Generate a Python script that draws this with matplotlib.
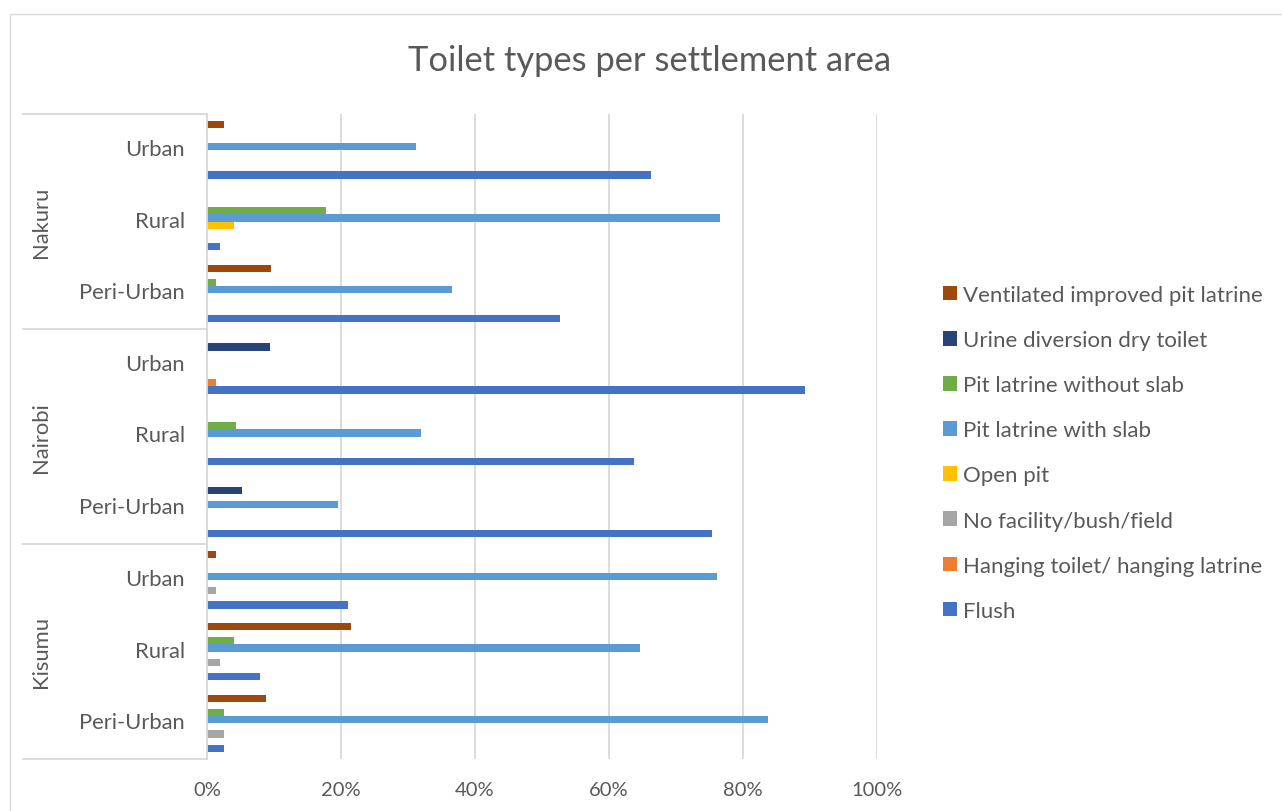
import numpy as np
import matplotlib.pyplot as plt
from matplotlib.patches import Rectangle
from matplotlib.transforms import blended_transform_factory, ScaledTranslation

plt.rcParams['font.family'] = ['Lato', 'DejaVu Sans']

# categories, bottom to top
groups = ['Kisumu', 'Nairobi', 'Nakuru']
areas = ['Peri-Urban', 'Rural', 'Urban']

series = ['Flush', 'Hanging toilet/ hanging latrine', 'No facility/bush/field',
          'Open pit', 'Pit latrine with slab', 'Pit latrine without slab',
          'Urine diversion dry toilet', 'Ventilated improved pit latrine']
colors = ['#4472C4', '#ED7D31', '#A5A5A5', '#FFC000', '#5B9BD5', '#70AD47',
          '#264478', '#9E480E']

# values in % (order: Kisumu PU, Rural, Urban, Nairobi PU, Rural, Urban, Nakuru PU, Rural, Urban)
flush = [2.5, 7.9, 21.1, 75.3, 63.8, 89.2, 52.7, 2.0, 66.2]
hanging = [0, 0, 0, 0, 0, 1.3, 0, 0, 0]
no_facility = [2.5, 2.0, 1.4, 0, 0, 0, 0, 0, 0]
open_pit = [0, 0, 0, 0, 0, 0, 0, 4.0, 0]
with_slab = [83.7, 64.7, 76.1, 19.5, 31.9, 0, 36.5, 76.5, 31.2]
without_slab = [2.5, 4.0, 0, 0, 4.3, 0, 1.4, 17.7, 0]
urine_div = [0, 0, 0, 5.2, 0, 9.4, 0, 0, 0]
vip = [8.8, 21.5, 1.4, 0, 0, 0, 9.5, 0, 2.6]

values = [flush, hanging, no_facility, open_pit, with_slab, without_slab, urine_div, vip]

W, H = 1282, 812
txt = '#595959'
grid = '#D9D9D9'

fig = plt.figure(figsize=(W / 100, H / 100), dpi=100)
ax = fig.add_axes([207 / W, 52 / H, 670 / W, 645 / H])

y = np.arange(len(groups) * len(areas))
h = 0.1
for i, (name, vals) in enumerate(zip(series, values)):
    ax.barh(y + (i - 3.5) * h, np.array(vals) / 100, height=h, color=colors[i], label=name)

ax.set_ylim(-0.5, len(y) - 0.5)
ax.set_xlim(0, 1)
ax.set_xticks(np.arange(0, 1.01, 0.2))
ax.set_xticklabels([f'{int(round(v * 100))}%' for v in np.arange(0, 1.01, 0.2)])
ax.tick_params(axis='x', length=0, pad=16, labelsize=14.5, labelcolor=txt)
ax.set_yticks(y)
ax.set_yticklabels(areas * len(groups))
ax.tick_params(axis='y', length=0, pad=16, labelsize=15.8, labelcolor=txt)
shift = ScaledTranslation(0, 3 / 100, fig.dpi_scale_trans)
for lab in ax.get_yticklabels():
    lab.set_transform(lab.get_transform() + shift)
ax.grid(axis='x', color=grid, lw=1.3)
ax.set_axisbelow(True)
for s in ['top', 'right', 'bottom']:
    ax.spines[s].set_visible(False)
ax.spines['left'].set_color(grid)
ax.spines['left'].set_linewidth(1.3)

# group labels and separators
tr = blended_transform_factory(ax.transAxes, ax.transData)
x0 = (23 - 207) / 670
for k, g in enumerate(groups):
    ax.text((41 - 207) / 670, k * 3 + 1, g, rotation=90, ha='center', va='center',
            fontsize=15.8, color=txt, transform=tr)
for b in np.arange(-0.5, len(y), 3):
    ax.plot([x0, 0], [b, b], color=grid, lw=1.3, transform=tr, clip_on=False)

handles, labels = ax.get_legend_handles_labels()
leg = ax.legend(handles[::-1], labels[::-1], loc='upper left',
                bbox_to_anchor=(943 / W, 1 - 286 / H), bbox_transform=fig.transFigure,
                frameon=False, fontsize=16, handlelength=0.63, handleheight=0.63,
                handletextpad=0.28, labelspacing=1.13, borderpad=0, borderaxespad=0)
for t in leg.get_texts():
    t.set_color(txt)

fig.text(650 / W, 1 - 61 / H, 'Toilet types per settlement area', ha='center', va='center',
         fontsize=24.8, color=txt)

fig.add_artist(Rectangle((10 / W, -0.1), 1.2, 1.1 - 15 / H, transform=fig.transFigure,
                         fill=False, ec=grid, lw=1))

fig.savefig('out.png', dpi=100)
